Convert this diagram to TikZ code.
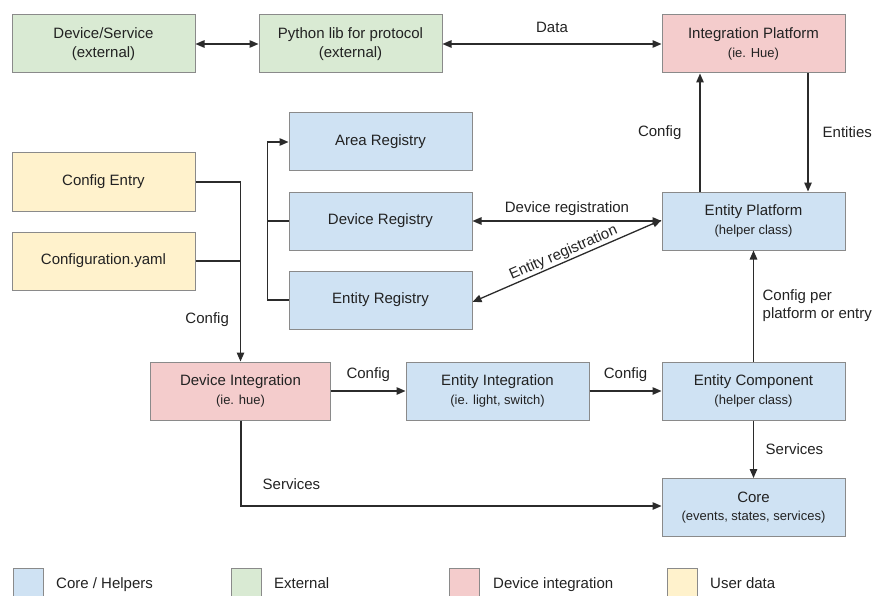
\documentclass[tikz,border=0pt]{standalone}
\usepackage{fontspec}
\setmainfont{Liberation Sans}
\usetikzlibrary{arrows.meta}
\definecolor{corefill}{HTML}{CFE2F3}
\definecolor{extfill}{HTML}{D9EAD3}
\definecolor{devfill}{HTML}{F4CCCC}
\definecolor{userfill}{HTML}{FFF2CC}
\definecolor{boxline}{HTML}{8A8A8A}
\definecolor{wirecol}{HTML}{2B2B2B}
\definecolor{txtcol}{HTML}{222222}
\newcommand{\subline}[1]{{\fontsize{13}{15}\selectfont #1}}
\begin{document}
\begin{tikzpicture}[x=1pt,y=-1pt,
  box/.style={draw=boxline, line width=1pt, minimum width=183pt, minimum height=58pt,
    inner sep=0pt, align=center, text=txtcol, font=\fontsize{15}{18.5}\selectfont},
  core/.style={box, fill=corefill},
  ext/.style={box, fill=extfill},
  devi/.style={box, fill=devfill},
  user/.style={box, fill=userfill},
  tip/.tip={Triangle[length=9pt,width=7.5pt]},
  wire/.style={draw=wirecol, line width=1.3pt},
  arr/.style={wire, -tip},
  darr/.style={wire, tip-tip},
  lbl/.style={text=txtcol, font=\fontsize{15}{18}\selectfont, inner sep=2pt},
  legbox/.style={draw=boxline, line width=1pt, minimum width=30pt, minimum height=32pt, inner sep=0pt},
  legtext/.style={text=txtcol, font=\fontsize{15}{18}\selectfont, anchor=base west, inner sep=0pt}
]
\useasboundingbox (0,0) rectangle (877,596);
\clip (0,0) rectangle (877,596);

% external parts and the integration platform
\node[ext]  (dev)    at (103.5,44) {Device/Service\\(external)};
\node[ext]  (pylib)  at (350.5,44) {Python lib for protocol\\(external)};
\node[devi] (intplat) at (753.5,44) {Integration Platform\\\subline{(ie. Hue)}};

% registries
\node[core] (area)   at (380.5,142) {Area Registry};
\node[core] (devreg) at (380.5,221) {Device Registry};
\node[core] (entreg) at (380.5,300) {Entity Registry};

% user data
\node[user] (cfgentry) at (103.5,182) {Config Entry};
\node[user] (cfgyaml)  at (103.5,261) {Configuration.yaml};

% helpers and integrations
\node[core] (entplat) at (753.5,221) {Entity Platform\\\subline{(helper class)}};
\node[devi, minimum width=180pt] (devint) at (240.5,391) {Device Integration\\\subline{(ie. hue)}};
\node[core] (entint)  at (497.5,391) {Entity Integration\\\subline{(ie. light, switch)}};
\node[core] (entcomp) at (753.5,391) {Entity Component\\\subline{(helper class)}};
\node[core] (core)    at (753.5,507.5) {Core\\\subline{(events, states, services)}};

% top row
\draw[darr] (dev.east) -- (pylib.west);
\draw[darr] (pylib.east) -- node[lbl, above=9pt] {Data} (intplat.west);

% platform links
\draw[arr] ([xshift=-53.5pt]entplat.north) -- node[lbl, left=16pt] {Config} ([xshift=-53.5pt]intplat.south);
\draw[arr] ([xshift=54.5pt]intplat.south) -- node[lbl, right=12pt] {Entities} ([xshift=54.5pt]entplat.north);

% configuration into the device integration
\draw[arr] (cfgentry.east) -| node[lbl, pos=0.883, left=9pt] {Config} (devint.north);
\draw[wire] (cfgyaml.east) -- (cfgyaml.east -| devint.north);

% registry bus
\coordinate (bus) at ([xshift=-21pt]area.west);
\draw[arr] (entreg.west) -| (bus) -- (area.west);
\draw[wire] (devreg.west) -- (devreg.west -| bus);

% registrations
\draw[darr] (devreg.east) -- node[lbl, above=3pt] {Device registration} (entplat.west);
\draw[darr] ([yshift=-2pt]entreg.east) -- node[lbl, above, sloped, inner sep=1pt] {Entity registration} ([yshift=1pt]entplat.west);

% component chain
\draw[arr] (entcomp.north) -- node[lbl, right=6.5pt, align=left] {Config per\\platform or entry} (entplat.south);
\draw[arr] (devint.east) -- node[lbl, above=7pt] {Config} (entint.west);
\draw[arr] (entint.east) -- node[lbl, above=7pt] {Config} (entcomp.west);
\draw[arr] (entcomp.south) -- node[lbl, right=9.5pt] {Services} (core.north);
\draw[arr] ([xshift=0.5pt]devint.south) |- node[lbl, pos=0.56, above=14pt] {Services} ([yshift=1.5pt]core.west);

% legend
\node[legbox, fill=corefill, anchor=north west] (lg1) at (13,568) {};
\node[legtext] (lt1) at (56,588.5) {Core / Helpers};
\node[legbox, fill=extfill, anchor=north west] (lg2) at (231,568) {};
\node[legtext] (lt2) at (274,588.5) {External};
\node[legbox, fill=devfill, anchor=north west] (lg3) at (449,568) {};
\node[legtext] (lt3) at (493,588.5) {Device integration};
\node[legbox, fill=userfill, anchor=north west] (lg4) at (667,568) {};
\node[legtext] (lt4) at (710,588.5) {User data};
\end{tikzpicture}
\end{document}
